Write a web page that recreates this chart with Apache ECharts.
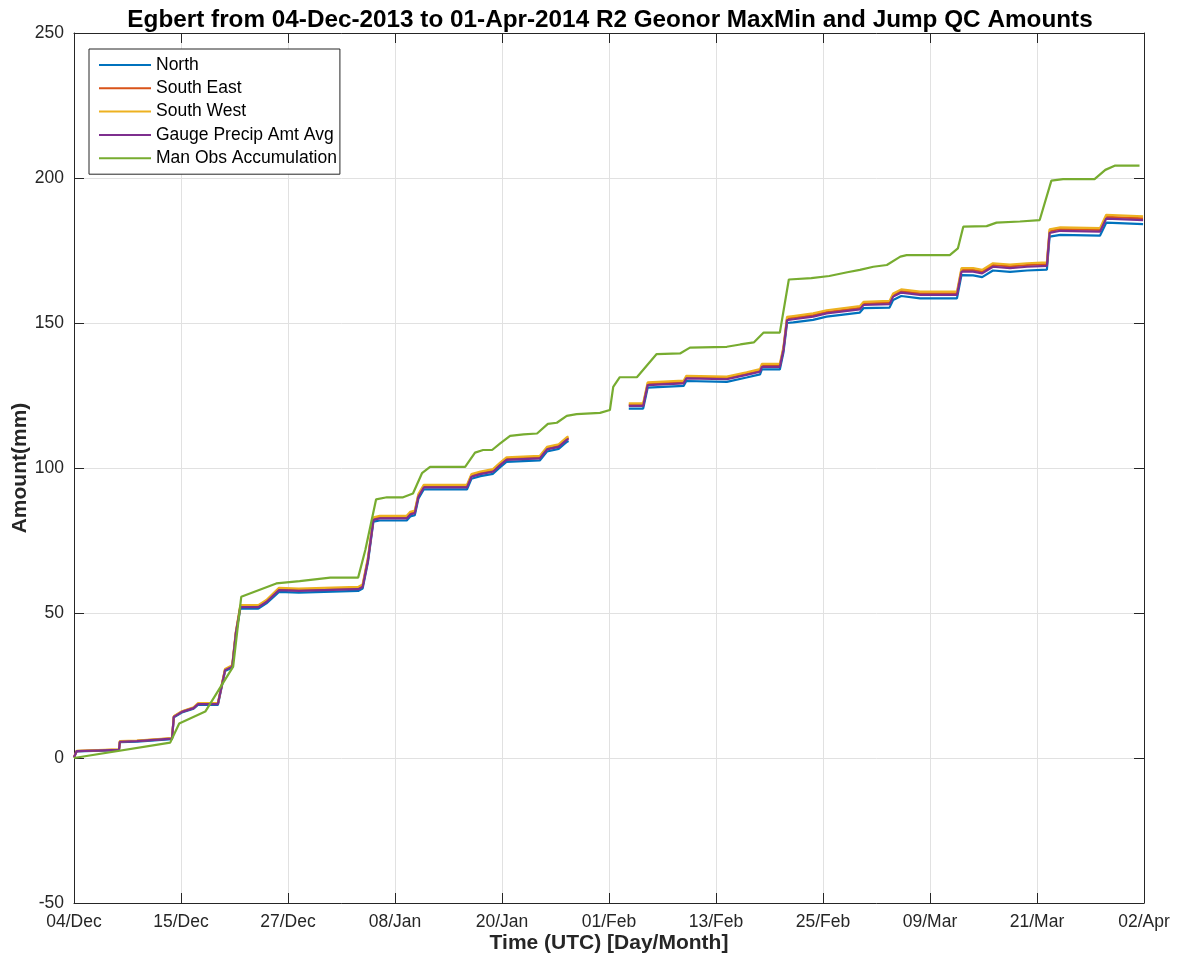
<!DOCTYPE html>
<html>
<head>
<meta charset="utf-8">
<title>Egbert R2 Geonor MaxMin and Jump QC Amounts</title>
<script src="https://cdn.jsdelivr.net/npm/echarts@6/dist/echarts.min.js"></script>
<style>
  html, body { margin: 0; padding: 0; background: #fff; }
  #chart { width: 1182px; height: 965px; }
</style>
</head>
<body>
<div id="chart"></div>
<script>
// Days since 04-Dec-2013 00:00 UTC for the gauge records (null row = data gap)
const gaugeDays = [0,0.3,0.5,5.0,5.1,7,10.9,11.1,12,13.3,
  13.8,16,16.8,17.6,18,18.5,20.5,21.4,22.8,25,
  31.6,32.1,32.7,33.3,34,37,37.4,37.9,38.3,38.9,
  43.7,44.2,45.2,46.6,47.4,48.1,51.8,52.6,53.9,54.8,
  55,58,61.7,63.3,63.8,67.8,68.1,72.6,74.8,76.3,
  76.5,78.5,78.9,79.3,80,82.2,83.7,87.4,87.8,90.7,
  91.1,92,94.1,98.2,98.7,100,101,102.2,104.1,106,
  108.2,108.5,109.7,114.1,114.8,118.9];

const northAmt = [0.2,2.3,2.7,2.7,5.5,5.6,6.5,14.0,15.7,17.0,
  18.4,18.3,30.0,31.2,42.6,51.6,51.5,53.3,57.3,57.0,
  57.6,58.4,67.7,81.5,81.9,81.9,83.3,83.7,89.4,92.6,
  92.6,96.3,97.2,98.0,100.3,102.1,102.6,105.7,106.6,109.0,
  109.3,null,120.5,120.5,127.7,128.3,130.0,129.7,131.2,132.3,
  134.0,134.0,139.8,150.0,150.2,151.1,152.2,153.6,155.1,155.3,
  157.9,159.3,158.5,158.5,166.5,166.4,165.8,168.1,167.6,168.1,
  168.4,179.8,180.4,180.1,184.6,184.1];

const southEastAmt = [0.2,2.4,2.9,2.9,5.7,5.9,6.8,14.3,16.0,17.3,
  18.7,18.7,30.5,31.7,43.2,52.3,52.3,54.1,58.3,58.0,
  58.6,59.4,68.7,82.5,83.0,83.0,84.4,84.8,90.5,93.7,
  93.7,97.4,98.3,99.1,101.4,103.2,103.7,106.8,107.7,110.1,
  110.4,null,121.8,121.8,129.0,129.6,131.3,131.0,132.5,133.6,
  135.3,135.3,141.1,151.5,151.8,152.7,153.8,155.2,156.7,157.0,
  159.6,161.0,160.2,160.2,168.3,168.3,167.7,170.0,169.5,170.0,
  170.3,181.7,182.4,182.1,186.6,186.1];

const southWestAmt = [0.2,2.5,3.0,3.0,5.8,6.0,6.9,14.4,16.1,17.5,
  18.9,18.9,30.7,32.0,43.5,52.7,52.7,54.5,58.7,58.4,
  59.0,59.8,69.2,83.0,83.5,83.5,84.9,85.3,91.0,94.2,
  94.2,97.9,98.8,99.6,101.9,103.7,104.2,107.3,108.2,110.6,
  110.9,null,122.3,122.3,129.5,130.1,131.8,131.5,133.0,134.1,
  135.9,135.9,141.7,152.1,152.4,153.3,154.4,155.8,157.3,157.6,
  160.2,161.6,160.8,160.8,168.9,168.9,168.3,170.6,170.1,170.6,
  170.9,182.3,183.0,182.7,187.3,186.8];

const gaugeAvgAmt = [0.2,2.4,2.8,2.8,5.6,5.8,6.7,14.2,15.9,17.2,
  18.6,18.6,30.3,31.5,43,52,52,53.8,57.9,57.6,
  58.2,59,68.3,82.1,82.6,82.6,84,84.4,90.1,93.3,
  93.3,97,97.9,98.7,101,102.8,103.3,106.4,107.3,109.7,
  110,null,121.4,121.4,128.6,129.2,130.9,130.6,132.1,133.2,
  134.9,134.9,140.7,151,151.3,152.2,153.3,154.7,156.2,156.5,
  159.1,160.5,159.7,159.7,167.7,167.7,167.1,169.4,168.9,169.4,
  169.7,181.1,181.8,181.5,186,185.5];

// Manual observation accumulation: days since start and amount (mm)
const manObsDays = [0,10.7,11.7,14.6,17.7,18.6,22.5,25.1,28.5,31.6,
  32.4,33.6,34.8,36.6,37.7,38.7,39.6,43.5,44.6,45.5,
  46.5,47.4,48.5,50,51.5,52.7,53.7,54.8,55.9,58.5,
  59.6,59.97,60.7,62.6,64.8,67.4,68.5,72.6,74.1,75.6,
  76.7,78.5,79.5,82,84,86,87.4,88.9,90.4,91.9,
  92.6,97.4,98.3,98.9,101.5,102.6,105.2,107.4,108.7,110,
  113.5,114.7,115.8,118.5];
const manObsAmt = [0,5.3,11.9,16,31.5,55.6,60.2,61.0,62.2,62.2,
  71.7,89.2,89.9,89.9,91.2,98.2,100.4,100.4,105.3,106.2,
  106.2,108.5,111.1,111.6,111.9,115.2,115.6,118,118.6,119,
  120,128,131.3,131.3,139.3,139.5,141.5,141.8,142.6,143.3,
  146.7,146.7,165,165.5,166.2,167.5,168.3,169.4,170,172.9,
  173.4,173.4,175.7,183.2,183.4,184.6,185,185.5,199.1,199.6,
  199.6,202.8,204.3,204.3];

// Time axis: 11 evenly spaced ticks across the 119-day window
const xSpanDays = 119;
const xTickStep = 11.9;
const xTickLabels = ['04/Dec','15/Dec','27/Dec','08/Jan','20/Jan','01/Feb',
  '13/Feb','25/Feb','09/Mar','21/Mar','02/Apr'];

const seriesNames = ['North','South East','South West','Gauge Precip Amt Avg','Man Obs Accumulation'];
const seriesColors = ['#0072BD','#D95319','#EDB120','#7E2F8E','#77AC30'];

const pair = (xs, ys) => xs.map((x, i) => [x, ys[i]]);
const seriesValues = [
  pair(gaugeDays, northAmt),
  pair(gaugeDays, southEastAmt),
  pair(gaugeDays, southWestAmt),
  pair(gaugeDays, gaugeAvgAmt),
  pair(manObsDays, manObsAmt)
];

const FONT = 'Liberation Sans, Arial, Helvetica, sans-serif';
const INK = '#262626';

const chart = echarts.init(document.getElementById('chart'), null, { renderer: 'canvas' });

const baseX = {
  type: 'value', min: 0, max: xSpanDays, interval: xTickStep,
  axisLine: { show: true, onZero: false, lineStyle: { color: INK, width: 1 } },
  axisTick: { show: true, inside: true, length: 10, lineStyle: { color: INK } },
  splitLine: { show: false }
};
const baseY = {
  type: 'value', min: -50, max: 250, interval: 50,
  axisLine: { show: true, onZero: false, lineStyle: { color: INK, width: 1 } },
  axisTick: { show: true, inside: true, length: 10, lineStyle: { color: INK } },
  splitLine: { show: false }
};

chart.setOption({
  animation: false,
  backgroundColor: '#ffffff',
  color: seriesColors,
  title: {
    text: 'Egbert from 04-Dec-2013 to 01-Apr-2014 R2 Geonor MaxMin and Jump QC Amounts',
    left: 605, textAlign: 'center', top: 3,
    textStyle: { fontFamily: FONT, fontSize: 24.3, fontWeight: 'bold', color: '#000' }
  },
  grid: { left: 74, right: 38, top: 33, bottom: 62, containLabel: false, outerBoundsMode: 'none' },
  legend: {
    orient: 'vertical', left: 89, top: 49,
    padding: [7, 3, 7, 10],
    icon: 'rect',
    itemWidth: 52, itemHeight: 2, itemGap: 5.3,
    backgroundColor: '#ffffff', borderColor: INK, borderWidth: 1,
    textStyle: { fontFamily: FONT, fontSize: 17.5, color: '#000', lineHeight: 18 },
    data: seriesNames
  },
  xAxis: [
    Object.assign({}, baseX, {
      position: 'bottom',
      name: 'Time (UTC) [Day/Month]', nameLocation: 'middle', nameGap: 30,
      nameMoveOverlap: false,
      nameTextStyle: { fontFamily: FONT, fontSize: 21, fontWeight: 'bold', color: INK },
      axisLabel: {
        fontFamily: FONT, fontSize: 17.5, color: INK, margin: 10,
        showMinLabel: true, showMaxLabel: true,
        formatter: v => xTickLabels[Math.round(v / xTickStep)] || ''
      },
      splitLine: { show: true, lineStyle: { color: '#e1e1e1', width: 1 } }
    }),
    Object.assign({}, baseX, { position: 'top', axisLabel: { show: false } })
  ],
  yAxis: [
    Object.assign({}, baseY, {
      position: 'left',
      name: 'Amount(mm)', nameLocation: 'middle', nameGap: 43,
      nameMoveOverlap: false,
      nameTextStyle: { fontFamily: FONT, fontSize: 21, fontWeight: 'bold', color: INK },
      axisLabel: { fontFamily: FONT, fontSize: 17.5, color: INK, margin: 10 },
      splitLine: { show: true, lineStyle: { color: '#e1e1e1', width: 1 } }
    }),
    Object.assign({}, baseY, { position: 'right', axisLabel: { show: false } })
  ],
  series: seriesNames.map((name, i) => ({
    name: name,
    type: 'line',
    xAxisIndex: 0, yAxisIndex: 0,
    data: seriesValues[i],
    symbol: 'none',
    connectNulls: false,
    lineStyle: { width: 2.2, color: seriesColors[i] },
    itemStyle: { color: seriesColors[i] },
    z: 2 + i
  }))
});
</script>
</body>
</html>
